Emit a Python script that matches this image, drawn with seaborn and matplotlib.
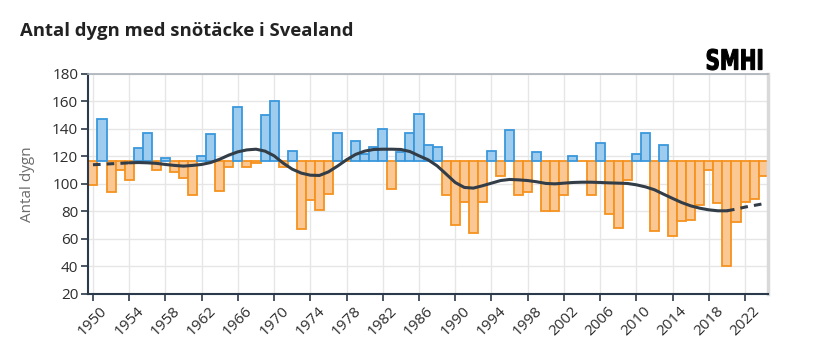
import pandas as pd
import matplotlib
matplotlib.use("Agg")
import matplotlib.pyplot as plt
import seaborn as sns
from matplotlib.textpath import TextPath
from matplotlib.patches import PathPatch
from matplotlib.font_manager import FontProperties
from matplotlib.transforms import Affine2D

# --- data ---
years = list(range(1950, 2025))
snow_days = [99, 147, 94, 110, 103, 126, 137, 110, 119, 109,
             104, 92, 120, 136, 95, 112, 156, 112, 115.5, 150,
             160, 112, 124, 67, 88, 81, 93, 137, 117, 131,
             122, 127, 140, 96, 123, 137, 151, 128, 127, 92,
             70, 87, 64, 87, 124, 106, 139, 92, 94, 123,
             80, 80, 92, 120, 116.7, 92, 130, 78, 68, 103,
             122, 137, 66, 128, 62, 73, 74, 85, 110, 86,
             40, 72, 87, 89, 106]
# smoothed curve (as drawn)
trend = [114, 114.3, 114.7, 115, 115.4, 115.6, 115.4, 115, 114.2, 113.5,
         113, 113.5, 114.2, 115.6, 118, 121, 123.4, 124.8, 125.3, 123.9,
         120.5, 115.2, 110.8, 107.9, 106.4, 106.2, 108.8, 113, 117.6, 121.5,
         123.9, 125.1, 125.3, 125.3, 125.1, 123.6, 120.5, 117.6, 113.2, 107.2,
         101.1, 97.5, 97, 98.7, 100.6, 102.5, 103.3, 103, 102.5, 101.6,
         100.4, 100.1, 100.6, 101.1, 101.3, 101.3, 101.1, 100.8, 100.6, 100.4,
         99.4, 97.9, 95.8, 92.6, 89.5, 86.5, 84.1, 82.4, 81.2, 80.5,
         80.5, 81.7, 83.2, 84.4, 85.6]
BASELINE = 117  # 1961-1990 mean
xtick_years = list(range(1950, 2023, 4))
ytick_vals = list(range(20, 181, 20))

df = pd.DataFrame({"year": years, "days": snow_days, "trend": trend})
df["dev"] = df["days"] - BASELINE
above = df[df["dev"] > 0]
below = df[df["dev"] <= 0]

sns.set_style("white")
plt.rcParams["font.family"] = ["Open Sans", "DejaVu Sans"]

fig = plt.figure(figsize=(8.26, 3.59), dpi=100)
ax = fig.add_axes([0.1065, 0.1811, 0.8229, 0.6128])

ax.grid(True, color="#e6e6e6", linewidth=1, zorder=0)
ax.set_axisbelow(True)

sns.barplot(data=below, x="year", y="dev", bottom=BASELINE, native_scale=True,
            width=1, errorbar=None, saturation=1, color="#fbc793",
            edgecolor="#f5921f", linewidth=1.3, zorder=2, ax=ax)
sns.barplot(data=above, x="year", y="dev", bottom=BASELINE, native_scale=True,
            width=1, errorbar=None, saturation=1, color="#9dccef",
            edgecolor="#3a97dc", linewidth=1.3, zorder=2, ax=ax)

solid = df[(df["year"] >= 1954) & (df["year"] <= 2020)]
head = df[df["year"] <= 1954]
tail = df[df["year"] >= 2020]
sns.lineplot(data=solid, x="year", y="trend", color="#333d47", linewidth=2.2,
             zorder=4, ax=ax)
for part in (head, tail):
    sns.lineplot(data=part, x="year", y="trend", color="#333d47", linewidth=2.2,
                 dashes=False, linestyle=(0, (2.5, 2)), zorder=4, ax=ax)

ax.set_xlim(1949.45, 2024.5)
ax.set_ylim(20, 180)
ax.set_xticks(xtick_years)
ax.set_xticklabels([str(y) for y in xtick_years], rotation=45, ha="center",
                   fontsize=11, color="#2d2d2d")
ax.set_yticks(ytick_vals)
ax.set_yticklabels([str(v) for v in ytick_vals], fontsize=11, color="#2d2d2d")
ax.tick_params(axis="both", length=5, width=1.2, color="#2b3a4a", pad=2,
               bottom=True, left=True)
ax.set_xlabel("")
ax.set_ylabel("Antal dygn", fontsize=11, color="#6b6b6b")
ax.yaxis.set_label_coords(-0.078, 0.5)

for side in ("left", "bottom"):
    ax.spines[side].set_color("#2b3a4a")
    ax.spines[side].set_linewidth(1.5)
ax.spines["top"].set_color("#a9b0b7")
ax.spines["top"].set_linewidth(1.2)
ax.spines["right"].set_color("#d9d9d9")
ax.spines["right"].set_linewidth(2.5)

fig.text(0.024, 0.9, "Antal dygn med snötäcke i Svealand", fontsize=13.3,
         fontweight="bold", color="#222222", va="baseline")

# SMHI logo: heavy, condensed lettering (pixel coords, origin bottom-left)
logo = TextPath((0, 0), "SMHI", size=1,
                prop=FontProperties(family="DejaVu Sans", weight="bold"))
ext = logo.get_extents()
sx = 55 / ext.width
sy = 21 / ext.height
logo_tr = Affine2D().translate(-ext.x0, -ext.y0).scale(sx, sy).translate(707, 359 - 70)
fig.add_artist(PathPatch(logo, facecolor="black", edgecolor="black",
                         linewidth=0.8, transform=logo_tr))

fig.savefig("out.png", dpi=100)
